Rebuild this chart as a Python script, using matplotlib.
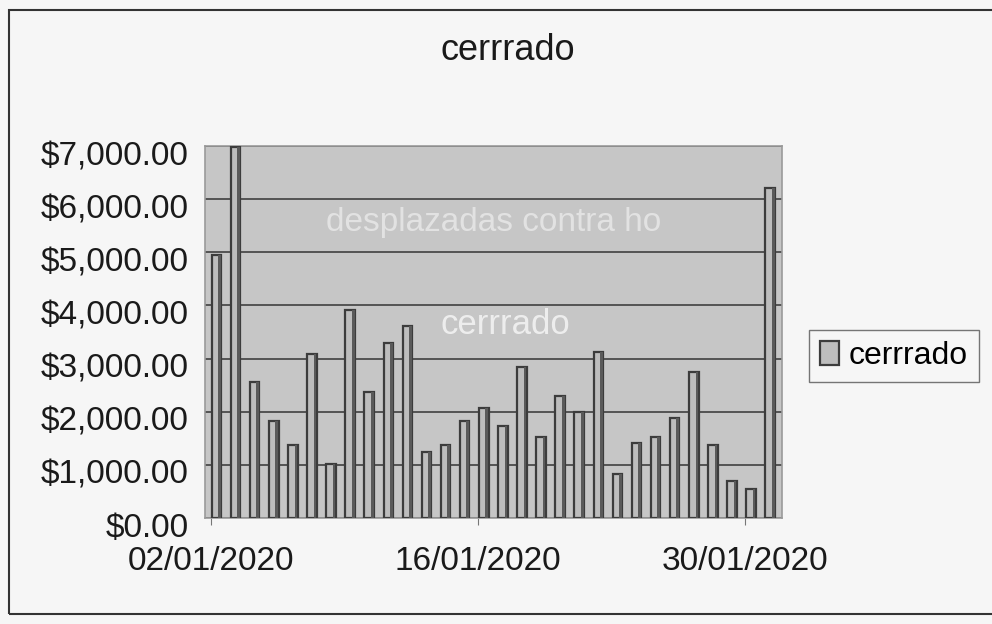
import matplotlib.pyplot as plt
import matplotlib.dates as mdates
import matplotlib.transforms as mtransforms
from matplotlib.patches import Rectangle
import pandas as pd

plt.rcParams['font.family'] = ['Liberation Sans', 'DejaVu Sans']

# daily closing values, January 2020
dates = pd.date_range('2020-01-02', '2020-01-31', freq='D')
cerrado = [4950, 6980, 2550, 1830, 1380, 3080, 1020, 3910, 2370, 3300,
           3610, 1240, 1380, 1830, 2070, 1740, 2840, 1520, 2290, 1990,
           3120, 830, 1420, 1520, 1880, 2750, 1380, 690, 550, 6210]
tick_dates = ['2020-01-02', '2020-01-16', '2020-01-30']
tick_labels = ['02/01/2020', '16/01/2020', '30/01/2020']
y_ticks = [0, 1000, 2000, 3000, 4000, 5000, 6000, 7000]

fig = plt.figure(figsize=(9.92, 6.24), dpi=100)
fig.patch.set_facecolor('#f6f6f6')
fig.patches.append(Rectangle((0.009, 0.016), 1.2, 0.968, transform=fig.transFigure,
                             fill=False, edgecolor='#333333', linewidth=1.5))

ax = fig.add_axes([205 / 992, 1 - 518 / 624, 577 / 992, 372 / 624])
ax.set_facecolor('#c6c6c6')

x = mdates.date2num(dates)
ax.bar(x, cerrado, width=0.5, color='#bdbdbd', edgecolor='#3c3c3c', linewidth=1.6,
       zorder=3, label='cerrrado')
ax.bar(x + 0.16, cerrado, width=0.14, color='#5a5a5a', linewidth=0, zorder=4)

ax.set_xlim(x[0] - 0.6, x[-1] + 0.62)
ax.set_ylim(0, 7000)
ax.set_yticks(y_ticks)
ax.set_yticklabels(['${:,.2f}'.format(v) for v in y_ticks])
ax.set_xticks(mdates.date2num(pd.to_datetime(tick_dates)) - 0.3)
ax.set_xticklabels(tick_labels)
ax.grid(axis='y', color='#4a4a4a', linewidth=1.3, zorder=1)
ax.tick_params(axis='y', labelsize=24, length=0, pad=12, labelcolor='#1a1a1a')
ax.tick_params(axis='x', labelsize=24, length=5, pad=15, labelcolor='#1a1a1a', color='#777777')
offset = mtransforms.ScaledTranslation(0, -7 / 100, fig.dpi_scale_trans)
for lab in ax.get_yticklabels():
    lab.set_transform(lab.get_transform() + offset)
for s in ax.spines.values():
    s.set_color('#9a9a9a')
    s.set_linewidth(1.2)

# faint white text showing through the scanned plot area
ax.text(0.5, 0.795, 'desplazadas contra ho', transform=ax.transAxes, ha='center',
        va='center', color='white', alpha=0.5, fontsize=24, zorder=2)
ax.text(0.52, 0.52, 'cerrrado', transform=ax.transAxes, ha='center', va='center',
        color='white', alpha=0.7, fontsize=25, zorder=2)

fig.text(508 / 992, 1 - 50 / 624, 'cerrrado', ha='center', va='center',
         fontsize=26, color='#1a1a1a')

leg = fig.legend(loc='center left', bbox_to_anchor=(809 / 992, 1 - 356 / 624),
                 fontsize=23, frameon=True, fancybox=False, edgecolor='#555555',
                 handlelength=0.6, handleheight=0.8, handletextpad=0.3,
                 borderpad=0.35, borderaxespad=0)
leg.get_frame().set_facecolor('#f6f6f6')
leg.get_frame().set_linewidth(1.0)
for h in leg.legend_handles:
    h.set_edgecolor('#3c3c3c')

fig.savefig('out.png', dpi=100, facecolor=fig.get_facecolor())
